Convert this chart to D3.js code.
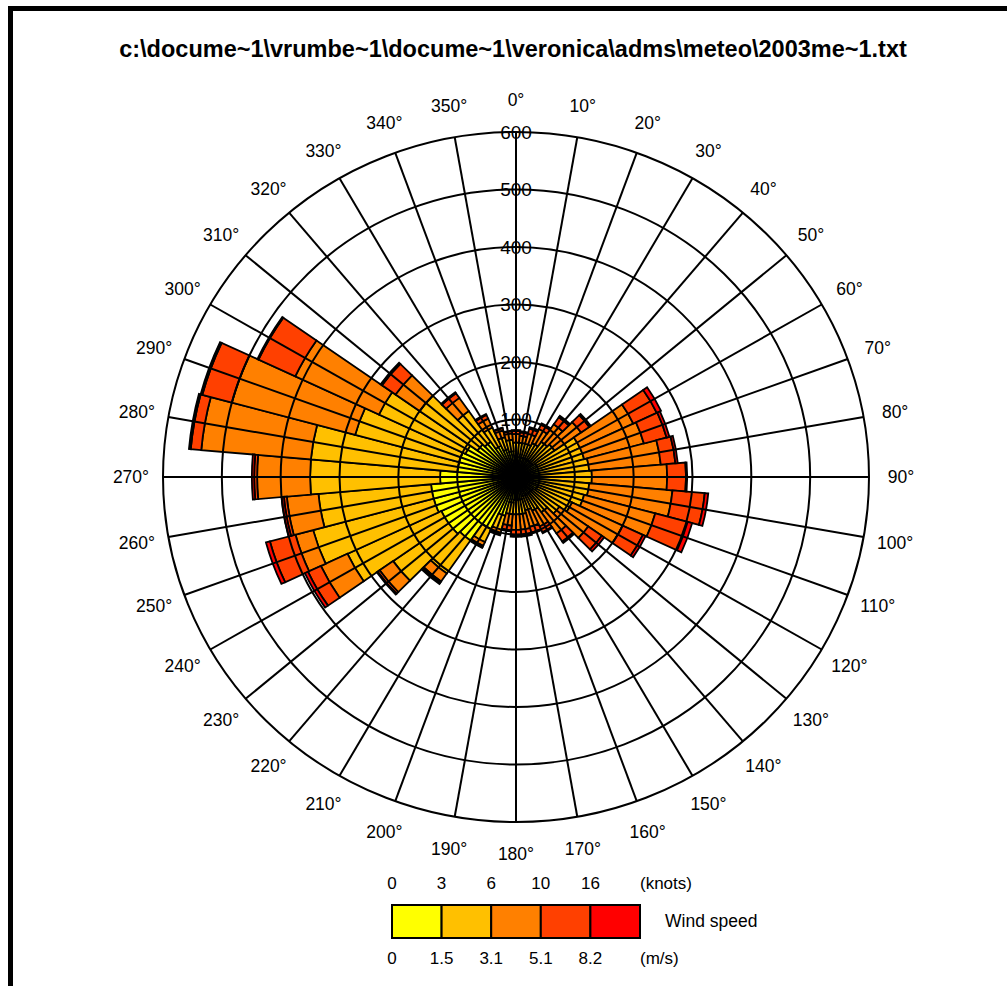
<!DOCTYPE html>
<html>
<head>
<meta charset="utf-8">
<script src="https://cdn.jsdelivr.net/npm/d3@7/dist/d3.min.js"></script>
<style>
body { margin: 0; background: #fff; }
text { font-family: "Liberation Sans", Arial, sans-serif; fill: #000; }
</style>
</head>
<body>
<svg id="chart" width="1007" height="986"></svg>
<script>
// wind directions (degrees, compass)
var directions = [0, 10, 20, 30, 40, 50, 60, 70, 80, 90, 100, 110, 120, 130, 140, 150, 160, 170,
                  180, 190, 200, 210, 220, 230, 240, 250, 260, 270, 280, 290, 300, 310, 320, 330, 340, 350];

// counts per speed band, one value per direction
var band1 = [35, 35, 35, 35, 35, 35, 40, 40, 40, 40, 40, 40, 40, 35, 35, 35, 35, 40,
             40, 45, 70, 100, 135, 140, 140, 145, 145, 129, 100, 100, 95, 80, 75, 60, 50, 45];
var band2 = [25, 25, 25, 30, 40, 45, 80, 80, 85, 89, 85, 80, 65, 55, 40, 30, 25, 25,
             25, 20, 25, 25, 70, 115, 176, 212, 192, 221, 250, 183, 162, 120, 65, 35, 22, 20];
var band3 = [15, 12, 18, 27, 37, 55, 100, 105, 122, 128, 142, 125, 95, 60, 45, 30, 30, 27,
             27, 20, 7, 7, 17, 28, 50, 31, 54, 90, 187, 217, 157, 50, 28, 17, 12, 11];
var band4 = [5, 6, 9, 9, 15, 17, 44, 40, 25, 32, 55, 57, 38, 28, 17, 11, 10, 10,
             10, 8, 2, 3, 3, 4, 24, 45, 5, 5, 18, 52, 69, 28, 10, 7, 4, 4];
var band5 = [2, 2, 3, 2, 3, 3, 8, 5, 4, 2, 6, 8, 5, 5, 3, 2, 2, 2,
             2, 2, 1, 1, 2, 2, 6, 7, 4, 4, 3, 3, 2, 3, 2, 2, 1, 1];

var bandKeys = ["b1", "b2", "b3", "b4", "b5"];
var bandColors = ["#ffff00", "#ffc000", "#ff8000", "#ff4000", "#ff0000"];
var ringValues = [100, 200, 300, 400, 500, 600];
var knotLabels = ["0", "3", "6", "10", "16"];
var msLabels = ["0", "1.5", "3.1", "5.1", "8.2"];
var title = "c:\\docume~1\\vrumbe~1\\docume~1\\veronica\\adms\\meteo\\2003me~1.txt";

var svg = d3.select("#chart");
var cx = 516, cy = 477;
var radiusY = 345, radiusX = 353;

var r = d3.scaleLinear().domain([0, 600]).range([0, radiusY]);
var toRad = Math.PI / 180;

var table = directions.map(function(d, i) {
    return { dir: d, b1: band1[i], b2: band2[i], b3: band3[i], b4: band4[i], b5: band5[i] };
});
var series = d3.stack().keys(bandKeys)(table);

// frame
svg.append("rect").attr("x", 8).attr("y", 6).attr("width", 1010).attr("height", 5).attr("fill", "#000");
svg.append("rect").attr("x", 8).attr("y", 6).attr("width", 5).attr("height", 990).attr("fill", "#000");

svg.append("text")
    .attr("x", 513).attr("y", 57)
    .attr("text-anchor", "middle")
    .style("font-size", "23.5px")
    .style("font-weight", "bold")
    .text(title);

var g = svg.append("g")
    .attr("transform", "translate(" + cx + "," + cy + ") scale(" + (radiusX / radiusY) + ",1)");

var arc = d3.arc()
    .innerRadius(function(d) { return r(d[0]); })
    .outerRadius(function(d) { return r(d[1]); })
    .startAngle(function(d) { return (d.data.dir - 5) * toRad; })
    .endAngle(function(d) { return (d.data.dir + 5) * toRad; });

series.forEach(function(s, k) {
    g.append("g").selectAll("path")
        .data(s)
        .enter().append("path")
        .attr("d", arc)
        .attr("fill", bandColors[k])
        .attr("stroke", "#000")
        .attr("stroke-width", 1.8)
        .attr("stroke-linejoin", "miter")
        .attr("vector-effect", "non-scaling-stroke");
});

// grid on top
g.selectAll(".ring")
    .data(ringValues)
    .enter().append("circle")
    .attr("r", function(d) { return r(d); })
    .attr("fill", "none")
    .attr("stroke", "#000")
    .attr("stroke-width", 2)
    .attr("vector-effect", "non-scaling-stroke");

g.selectAll(".spoke")
    .data(directions)
    .enter().append("line")
    .attr("x1", 0).attr("y1", 0)
    .attr("x2", function(d) { return r(600) * Math.sin(d * toRad); })
    .attr("y2", function(d) { return -r(600) * Math.cos(d * toRad); })
    .attr("stroke", "#000")
    .attr("stroke-width", 2)
    .attr("vector-effect", "non-scaling-stroke");

svg.selectAll(".ringLabel")
    .data(ringValues)
    .enter().append("text")
    .attr("x", cx)
    .attr("y", function(d) { return cy - r(d); })
    .attr("dy", "0.36em")
    .attr("text-anchor", "middle")
    .style("font-size", "19px")
    .text(function(d) { return d; });

svg.selectAll(".dirLabel")
    .data(directions)
    .enter().append("text")
    .attr("x", function(d) { return cx + (radiusX + 32) * Math.sin(d * toRad); })
    .attr("y", function(d) { return cy - (radiusY + 32) * Math.cos(d * toRad); })
    .attr("dy", "0.36em")
    .attr("text-anchor", "middle")
    .style("font-size", "17.5px")
    .text(function(d) { return d + "\u00b0"; });

// legend
var lx = d3.scaleLinear().domain([0, 5]).range([392, 640]);
var legend = svg.append("g");
legend.selectAll("rect")
    .data(bandColors)
    .enter().append("rect")
    .attr("x", function(d, i) { return lx(i); })
    .attr("y", 905)
    .attr("width", lx(1) - lx(0))
    .attr("height", 33)
    .attr("fill", function(d) { return d; })
    .attr("stroke", "#000")
    .attr("stroke-width", 2);

legend.selectAll(".knots")
    .data(knotLabels)
    .enter().append("text")
    .attr("x", function(d, i) { return lx(i); })
    .attr("y", 883).attr("dy", "0.36em")
    .attr("text-anchor", "middle")
    .style("font-size", "17px")
    .text(function(d) { return d; });

legend.selectAll(".ms")
    .data(msLabels)
    .enter().append("text")
    .attr("x", function(d, i) { return lx(i); })
    .attr("y", 958).attr("dy", "0.36em")
    .attr("text-anchor", "middle")
    .style("font-size", "17px")
    .text(function(d) { return d; });

legend.append("text").attr("x", 640).attr("y", 883).attr("dy", "0.36em")
    .style("font-size", "17px").text("(knots)");
legend.append("text").attr("x", 640).attr("y", 958).attr("dy", "0.36em")
    .style("font-size", "17px").text("(m/s)");
legend.append("text").attr("x", 665).attr("y", 921).attr("dy", "0.36em")
    .style("font-size", "17.5px").text("Wind speed");
</script>
</body>
</html>
